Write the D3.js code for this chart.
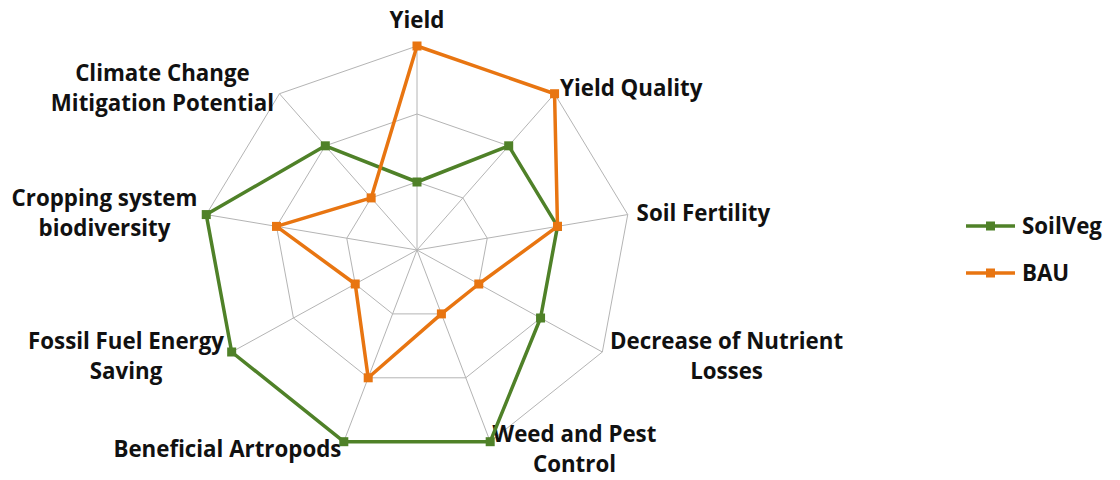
<!DOCTYPE html>
<html>
<head>
<meta charset="utf-8">
<script src="https://cdn.jsdelivr.net/npm/d3@7"></script>
<style>
  body { margin: 0; background: #fff; }
  text { font-family: "Open Sans", Lato, sans-serif; font-weight: bold; fill: #111; }
</style>
</head>
<body>
<script>
const width = 1120;
const height = 480;

// axes, clockwise from the top
const axes = [
  ["Yield"],
  ["Yield Quality"],
  ["Soil Fertility"],
  ["Decrease of Nutrient", "Losses"],
  ["Weed and Pest", "Control"],
  ["Beneficial Artropods"],
  ["Fossil Fuel Energy", "Saving"],
  ["Cropping system", "biodiversity"],
  ["Climate Change", "Mitigation Potential"]
];
const soilVeg = [1, 2, 2, 2, 3, 3, 3, 3, 2];
const bau = [3, 3, 2, 1, 1, 2, 1, 2, 1];
const levels = [1, 2, 3];
const seriesNames = ["SoilVeg", "BAU"];
const seriesColors = ["#4f8128", "#e87511"];

const cx = 417, cy = 250, rx = 214, ry = 204;
const fontSize = 22.3, lineH = 30;

const svg = d3.select("body").append("svg")
    .attr("width", width)
    .attr("height", height);

const r = d3.scaleLinear().domain([0, 3]).range([0, 1]);
const angle = d3.scaleLinear().domain([0, axes.length]).range([0, 2 * Math.PI]);

function pt(i, v) {
  const a = angle(i);
  return [cx + rx * r(v) * Math.sin(a), cy - ry * r(v) * Math.cos(a)];
}

// grid rings
const grid = svg.append("g").attr("class", "grid");
grid.selectAll(".ring")
    .data(levels)
  .enter().append("path")
    .attr("class", "ring")
    .attr("d", (lv) => d3.line()(axes.map((_, i) => pt(i, lv))) + "Z")
    .attr("fill", "none")
    .attr("stroke", "#b4b4b4")
    .attr("stroke-width", 1);

// spokes
grid.selectAll(".spoke")
    .data(axes)
  .enter().append("line")
    .attr("class", "spoke")
    .attr("x1", cx).attr("y1", cy)
    .attr("x2", (d, i) => pt(i, 3)[0])
    .attr("y2", (d, i) => pt(i, 3)[1])
    .attr("stroke", "#b4b4b4")
    .attr("stroke-width", 1);

// axis labels
const labels = svg.append("g").attr("class", "labels");
axes.forEach((lines, i) => {
  const a = angle(i);
  const s = Math.sin(a), c = Math.cos(a);
  const [px, py] = pt(i, 3);
  const g = labels.append("g");
  const t = g.append("text").attr("font-size", fontSize).attr("text-anchor", "middle");
  lines.forEach((ln, k) => {
    t.append("tspan").attr("x", 0).attr("y", k * lineH).text(ln);
  });
  const bw = d3.max(t.selectAll("tspan").nodes(), (n) => n.getComputedTextLength());
  const blockH = (lines.length - 1) * lineH;
  let bx, by;
  const gap = 10 * Math.abs(s) - 1;
  if (Math.abs(s) < 0.1) {
    bx = px;
    by = py - 26;
  } else if (s > 0) {
    bx = px + gap + bw / 2;
    by = py - c * 8;
  } else {
    bx = px - gap - bw / 2;
    by = py - c * 8;
  }
  // by is the vertical centre of the block
  g.attr("transform", `translate(${bx},${by - blockH / 2 + fontSize * 0.36})`);
});

// series
const series = [soilVeg, bau];
const sg = svg.append("g").attr("class", "series");
series.forEach((vals, k) => {
  const pts = vals.map((v, i) => pt(i, v));
  sg.append("path")
      .attr("d", d3.line()(pts) + "Z")
      .attr("fill", "none")
      .attr("stroke", seriesColors[k])
      .attr("stroke-width", 3.5)
      .attr("stroke-linejoin", "round");
  sg.selectAll(".m" + k)
      .data(pts)
    .enter().append("rect")
      .attr("class", "m" + k)
      .attr("x", (d) => d[0] - 4.5)
      .attr("y", (d) => d[1] - 4.5)
      .attr("width", 9)
      .attr("height", 9)
      .attr("fill", seriesColors[k]);
});

// legend
const legend = svg.append("g").attr("class", "legend")
    .attr("transform", "translate(966,226)");
const li = legend.selectAll("g")
    .data(seriesNames)
  .enter().append("g")
    .attr("transform", (d, i) => `translate(0,${i * 47})`);
li.append("line")
    .attr("x1", 0).attr("x2", 49)
    .attr("stroke", (d, i) => seriesColors[i])
    .attr("stroke-width", 3.5);
li.append("rect")
    .attr("x", 20).attr("y", -4.5)
    .attr("width", 9).attr("height", 9)
    .attr("fill", (d, i) => seriesColors[i]);
li.append("text")
    .attr("x", 56)
    .attr("y", fontSize * 0.36)
    .attr("font-size", fontSize)
    .text((d) => d);
</script>
</body>
</html>
